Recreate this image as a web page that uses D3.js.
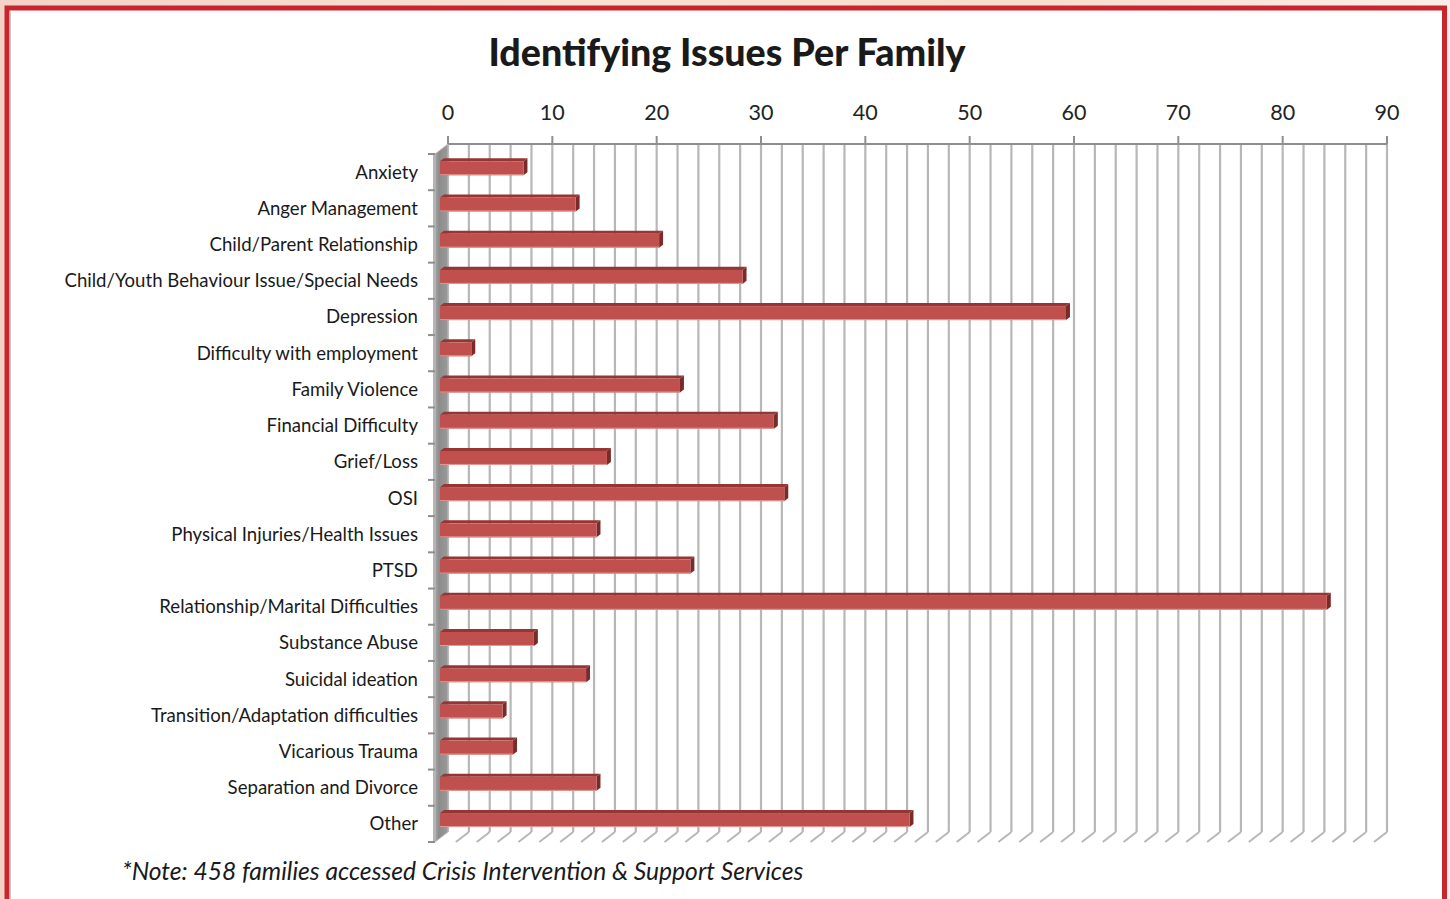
<!DOCTYPE html>
<html>
<head>
<meta charset="utf-8">
<script src="https://cdn.jsdelivr.net/npm/d3@7"></script>
<style>
  html, body { margin: 0; padding: 0; }
  body { width: 1450px; height: 899px; overflow: hidden; background: #fff; }
  svg { display: block; }
</style>
</head>
<body>
<svg id="chart" width="1450" height="899"></svg>
<script>
// ---- data ----
const categories = [
  "Anxiety",
  "Anger Management",
  "Child/Parent Relationship",
  "Child/Youth Behaviour Issue/Special Needs",
  "Depression",
  "Difficulty with employment",
  "Family Violence",
  "Financial Difficulty",
  "Grief/Loss",
  "OSI",
  "Physical Injuries/Health Issues",
  "PTSD",
  "Relationship/Marital Difficulties",
  "Substance Abuse",
  "Suicidal ideation",
  "Transition/Adaptation difficulties",
  "Vicarious Trauma",
  "Separation and Divorce",
  "Other"
];
const values = [8, 13, 21, 29, 60, 3, 23, 32, 16, 33, 15, 24, 85, 9, 14, 6, 7, 15, 45];
const xTicks = [0, 10, 20, 30, 40, 50, 60, 70, 80, 90];
const gridValues = d3.range(0, 91, 2);
const titleText = "Identifying Issues Per Family";
const noteText = "*Note: 458 families accessed Crisis Intervention & Support Services";

// ---- layout ----
const W = 1450, H = 899;
const plot = { left: 448, right: 1387, top: 144, bottom: 832 };
const depth = { dx: -13, dy: 10 };          // offset from back wall to front of floor
const barFront = 0.615, barBack = 0.31;     // bar depth positions (0 = back wall, 1 = front)
const barThick = 14;
const font = "Lato, 'Open Sans', sans-serif";

const svg = d3.select("#chart");

// background outside the frame
const defs = svg.append("defs");
const bg = defs.append("linearGradient").attr("id", "bg").attr("x1", 0).attr("x2", 1).attr("y1", 0).attr("y2", 0);
bg.append("stop").attr("offset", 0).attr("stop-color", "#f4d2c8");
bg.append("stop").attr("offset", 0.4).attr("stop-color", "#f8e2d2");
bg.append("stop").attr("offset", 0.7).attr("stop-color", "#f7dccb");
bg.append("stop").attr("offset", 1).attr("stop-color", "#fbeee8");
svg.append("rect").attr("x", 0).attr("y", 0).attr("width", W).attr("height", H).attr("fill", "url(#bg)");

const wallGrad = defs.append("linearGradient").attr("id", "wall").attr("x1", 0).attr("x2", 1).attr("y1", 0).attr("y2", 0);
wallGrad.append("stop").attr("offset", 0).attr("stop-color", "#a9a9a9");
wallGrad.append("stop").attr("offset", 0.3).attr("stop-color", "#8c8c8c");
wallGrad.append("stop").attr("offset", 1).attr("stop-color", "#9a9a9a");

// frame
svg.append("rect").attr("x", 7).attr("y", 8).attr("width", 1437.5).attr("height", H + 20)
  .attr("fill", "#ffffff").attr("stroke", "#c9252f").attr("stroke-width", 5);
svg.append("line").attr("x1", 10.5).attr("x2", 10.5).attr("y1", 10.5).attr("y2", H)
  .attr("stroke", "#c8c8c8").attr("stroke-width", 1);

// scales
const x = d3.scaleLinear().domain([0, 90]).range([plot.left, plot.right]);
const y = d3.scaleBand().domain(categories).range([plot.top, plot.bottom]).padding(0);
const P = (v, yy, d) => [x(v) + depth.dx * d, yy + depth.dy * d];
const line = d3.line();

// gridlines on back wall
const g = svg.append("g");
g.selectAll("line.grid").data(gridValues).join("line").attr("class", "grid")
  .attr("x1", d => x(d)).attr("x2", d => x(d))
  .attr("y1", plot.top).attr("y2", plot.bottom)
  .attr("stroke", "#b7b7b7").attr("stroke-width", 2.2);

// floor diagonals
g.selectAll("path.floor").data(gridValues.filter(d => d > 0)).join("path").attr("class", "floor")
  .attr("d", d => line([P(d, plot.bottom, 0), P(d, plot.bottom, 1)]))
  .attr("stroke", "#b7b7b7").attr("stroke-width", 2).attr("fill", "none");

// top axis
svg.append("line").attr("x1", x(0)).attr("x2", x(90)).attr("y1", plot.top).attr("y2", plot.top)
  .attr("stroke", "#8e8e8e").attr("stroke-width", 2);
svg.selectAll("line.tick").data(xTicks).join("line").attr("class", "tick")
  .attr("x1", d => x(d)).attr("x2", d => x(d)).attr("y1", plot.top - 8).attr("y2", plot.top)
  .attr("stroke", "#8e8e8e").attr("stroke-width", 2);
svg.selectAll("text.tick").data(xTicks).join("text").attr("class", "tick")
  .attr("x", d => x(d)).attr("y", 120)
  .attr("text-anchor", "middle").attr("font-family", font).attr("font-size", 21.5)
  .attr("fill", "#222").text(d => d);

// left wall
svg.append("path")
  .attr("d", line([P(0, plot.top, 0), P(0, plot.top, 1), P(0, plot.bottom, 1), P(0, plot.bottom, 0)]) + "Z")
  .attr("fill", "url(#wall)").attr("stroke", "#bdbdbd").attr("stroke-width", 1);
svg.append("path")
  .attr("d", line([[P(0, plot.top, 1)[0] - 2, P(0, plot.top, 1)[1]], P(0, plot.top, 1),
                   P(0, plot.bottom, 1), [P(0, plot.bottom, 1)[0] - 2, P(0, plot.bottom, 1)[1]]]) + "Z")
  .attr("fill", "#b5b5b5");

// category ticks on wall front edge
const bounds = d3.range(categories.length + 1).map(i => plot.top + i * y.step());
svg.selectAll("line.ctick").data(bounds).join("line").attr("class", "ctick")
  .attr("x1", d => P(0, d, 1)[0] - 7).attr("x2", d => P(0, d, 1)[0])
  .attr("y1", d => P(0, d, 1)[1]).attr("y2", d => P(0, d, 1)[1])
  .attr("stroke", "#8e8e8e").attr("stroke-width", 2);

// bars
const bars = svg.append("g").selectAll("g").data(categories).join("g");
bars.each(function (c, i) {
  const v = values[i];
  const yc = y(c) + y.bandwidth() / 2;
  const yT = yc - barThick / 2, yB = yc + barThick / 2;
  const sel = d3.select(this);
  // top face
  sel.append("path")
    .attr("d", line([P(0, yT, barFront), P(v, yT, barFront), P(v, yT, barBack), P(0, yT, barBack)]) + "Z")
    .attr("fill", "#963634");
  // side face
  sel.append("path")
    .attr("d", line([P(v, yT, barFront), P(v, yT, barBack), P(v, yB, barBack), P(v, yB, barFront)]) + "Z")
    .attr("fill", "#7a2b29");
  // front face
  const f0 = P(0, yT, barFront), f1 = P(v, yB, barFront);
  sel.append("rect").attr("x", f0[0]).attr("y", f0[1]).attr("width", f1[0] - f0[0]).attr("height", f1[1] - f0[1])
    .attr("fill", "#c0504d");
  sel.append("line").attr("x1", f0[0]).attr("x2", f1[0]).attr("y1", f1[1] - 0.5).attr("y2", f1[1] - 0.5)
    .attr("stroke", "#e39a98").attr("stroke-width", 1);
});

// category labels
svg.selectAll("text.cat").data(categories).join("text").attr("class", "cat")
  .attr("x", 418).attr("y", d => P(0, y(d) + y.bandwidth() / 2, 1)[1] + 6.5)
  .attr("text-anchor", "end").attr("font-family", font).attr("font-size", 18.6)
  .attr("fill", "#1a1a1a").text(d => d);

// title
svg.append("text").attr("x", 727).attr("y", 66).attr("text-anchor", "middle")
  .attr("font-family", font).attr("font-weight", 900).attr("font-size", 37.6)
  .attr("fill", "#1a1a1a").text(titleText);

// note
svg.append("text").attr("x", 122).attr("y", 880)
  .attr("font-family", font).attr("font-style", "italic").attr("font-size", 24.6)
  .attr("fill", "#1a1a1a").text(noteText);
</script>
</body>
</html>
